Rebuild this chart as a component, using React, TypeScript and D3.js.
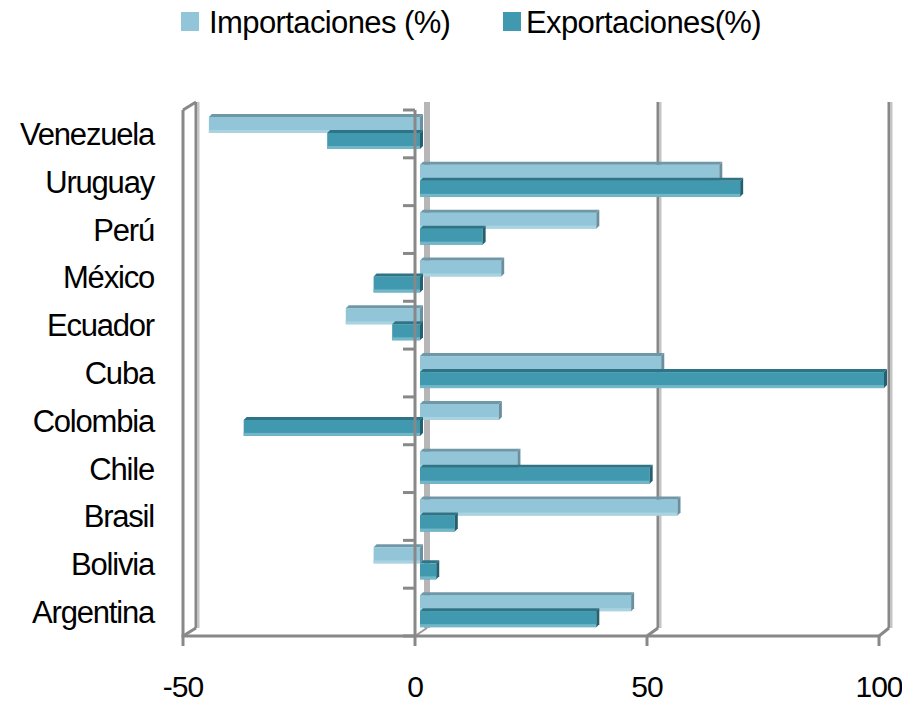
import React from 'react';
import * as d3 from 'd3';

const categories = ['Venezuela', 'Uruguay', 'Perú', 'México', 'Ecuador', 'Cuba', 'Colombia', 'Chile', 'Brasil', 'Bolivia', 'Argentina'];
const importaciones = [-45.5, 64.5, 38, 17.5, -16, 52, 17, 21, 55.5, -10, 45.5];
const exportaciones = [-20, 69, 13.5, -10, -6, 100, -38, 49.5, 7.5, 3.5, 38];
const xTicks = [-50, 0, 50, 100];
const seriesNames = ['Importaciones (%)', 'Exportaciones(%)'];

const W = 902;
const H = 703;
const FONT = '"Liberation Sans", Arial, sans-serif';

// back wall is pushed up by this much
const DY = -8;

const palette = [
  { face: '#92C5D8', top: '#6E98A8', end: '#6A8F9F', low: '#A9D3E1' },
  { face: '#4199B0', top: '#2F7386', end: '#25606F', low: '#72B6C7' },
];

export default function App() {
  const x = d3.scaleLinear().domain([-50, 100]).range([183, 879]);
  const xBack = d3.scaleLinear().domain([-50, 100]).range([196, 889]);
  const y = d3.scaleBand<string>().domain(categories).range([110, 636]);
  const bw = y.bandwidth();
  const barH = 16;
  const bx = 5; // bar front face offset from front plane
  const td = 3; // bar top/end face depth

  const top = 110;
  const bottom = 636;

  const bar = (v: number, cat: string, s: number) => {
    const c = palette[s];
    const x0 = Math.min(x(0), x(v)) + bx;
    const x1 = Math.max(x(0), x(v)) + bx;
    const y0 = (y(cat) as number) + 7 + s * barH;
    const y1 = y0 + barH;
    return (
      <g key={cat + s}>
        <rect x={x0} y={y0} width={x1 - x0} height={barH} fill={c.face} />
        <rect x={x0} y={y1 - 3} width={x1 - x0} height={3} fill={c.low} />
        <polygon points={`${x0},${y0} ${x0 + td},${y0 - td} ${x1 + td},${y0 - td} ${x1},${y0}`} fill={c.top} />
        <polygon points={`${x1},${y0} ${x1 + td},${y0 - td} ${x1 + td},${y1 - td} ${x1},${y1}`} fill={c.end} />
      </g>
    );
  };

  return (
    <svg width={W} height={H} style={{ position: 'absolute', left: 0, top: 0, background: '#fff' }}>
      {/* legend */}
      <rect x={181} y={12} width={18} height={19} fill={palette[0].face} />
      <text x={209} y={33} fontFamily={FONT} fontSize={31} letterSpacing={-0.6} fill="#000">{seriesNames[0]}</text>
      <rect x={503} y={12} width={18} height={19} fill={palette[1].face} />
      <text x={526} y={33} fontFamily={FONT} fontSize={31} letterSpacing={-0.6} fill="#000">{seriesNames[1]}</text>

      {/* back wall gridlines */}
      {xTicks.map((t) => {
        const gx = xBack(t);
        if (t === 0) {
          return <rect key={t} x={gx - 3} y={top + DY} width={6} height={bottom - top} fill="#B6B6B6" />;
        }
        return (
          <g key={t}>
            <line x1={gx} x2={gx} y1={top + DY} y2={bottom + DY} stroke="#888" strokeWidth={3} />
            <line x1={gx + 2.5} x2={gx + 2.5} y1={top + DY} y2={bottom + DY} stroke="#C4C4C4" strokeWidth={2} />
            <line x1={x(t)} x2={gx} y1={bottom} y2={bottom + DY} stroke="#888" strokeWidth={3} />
          </g>
        );
      })}

      {/* bars */}
      {categories.map((c, i) => (
        <g key={c}>
          {bar(importaciones[i], c, 0)}
          {bar(exportaciones[i], c, 1)}
        </g>
      ))}

      {/* front plane axes */}
      <line x1={x(-50)} x2={x(-50)} y1={top} y2={bottom} stroke="#888" strokeWidth={3} />
      <line x1={x(-50)} x2={xBack(-50)} y1={top} y2={top + DY} stroke="#888" strokeWidth={3} />
      <line x1={x(0)} x2={x(0)} y1={top} y2={bottom} stroke="#888" strokeWidth={3} />
      <line x1={x(0)} x2={xBack(0)} y1={bottom} y2={bottom + DY} stroke="#999" strokeWidth={2} />
      {d3.range(categories.length + 1).map((i) => {
        const ty = top + i * bw;
        return <line key={i} x1={x(0) - 12} x2={x(0)} y1={ty} y2={ty} stroke="#888" strokeWidth={3} />;
      })}
      <line x1={x(-50) - 1.5} x2={x(100) + 1.5} y1={bottom} y2={bottom} stroke="#888" strokeWidth={3} />
      {xTicks.map((t) => (
        <g key={t}>
          <line x1={x(t)} x2={x(t)} y1={bottom} y2={bottom + 10} stroke="#888" strokeWidth={3} />
          <text x={x(t)} y={697} textAnchor="middle" fontFamily={FONT} fontSize={30} letterSpacing={-1} fill="#000">{t}</text>
        </g>
      ))}

      {/* category labels */}
      {categories.map((c) => (
        <text key={c} x={154} y={(y(c) as number) + bw / 2 + 11} textAnchor="end" fontFamily={FONT} fontSize={31} letterSpacing={-1.2} fill="#000">{c}</text>
      ))}
    </svg>
  );
}
